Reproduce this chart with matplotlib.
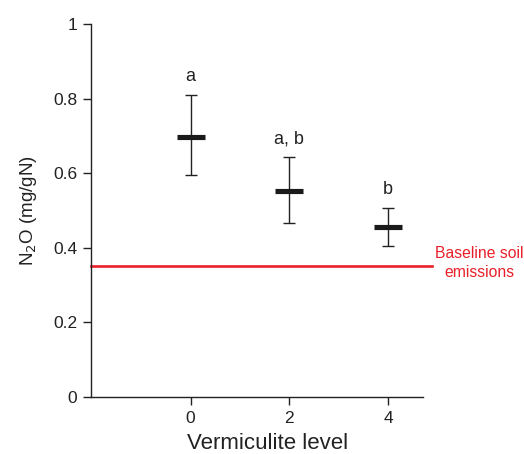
import matplotlib.pyplot as plt
from matplotlib.ticker import FuncFormatter

plt.rcParams['font.family'] = ['Liberation Sans', 'DejaVu Sans']

# Data
levels = [0, 2, 4]
means = [0.696, 0.552, 0.455]
upper = [0.810, 0.643, 0.507]
lower = [0.595, 0.467, 0.405]
letters = ['a', 'a, b', 'b']
baseline = 0.352

fig = plt.figure(figsize=(5.24, 4.54), dpi=100)
ax = fig.add_axes([0.1737, 0.1256, 0.6336, 0.8214])

yerr = [[m - lo for m, lo in zip(means, lower)],
        [up - m for m, up in zip(means, upper)]]
ax.errorbar(levels, means, yerr=yerr, fmt='none', ecolor='#222222',
            elinewidth=1.0, capsize=4.5, capthick=1.0, zorder=3)
ax.scatter(levels, means, marker='_', s=400, linewidths=3.7,
           color='#1a1a1a', zorder=4)

for x, up, lab in zip(levels, upper, letters):
    ax.text(x, up + 0.049, lab, ha='center', va='center', fontsize=13,
            color='#222222')

# Baseline line runs slightly past the axis end
ax.plot([-2.02, 4.9], [baseline, baseline], color='#e8202a', lw=1.9,
        clip_on=False, zorder=2)
ax.text(5.85, baseline + 0.007, 'Baseline soil\nemissions', color='#e8202a',
        ha='center', va='center', fontsize=11.3, linespacing=1.3)

ax.set_xlim(-2.02, 4.71)
ax.set_ylim(0, 1)
ax.set_xticks(levels)
ax.set_yticks([0, 0.2, 0.4, 0.6, 0.8, 1])
ax.yaxis.set_major_formatter(FuncFormatter(lambda v, p: f'{v:g}'))

for s in ['top', 'right']:
    ax.spines[s].set_visible(False)
for s in ['left', 'bottom']:
    ax.spines[s].set_linewidth(1.0)
    ax.spines[s].set_color('#222222')
ax.tick_params(direction='out', length=6, width=1.0, labelsize=12.5,
               colors='#222222', pad=4)

ax.set_xlabel('Vermiculite level', fontsize=16, color='#222222', labelpad=5)
ax.xaxis.label.set_x(0.533)
ax.set_ylabel('N$_2$O (mg/gN)', fontsize=13.5, color='#222222', labelpad=10)

fig.savefig('out.png', dpi=100)
